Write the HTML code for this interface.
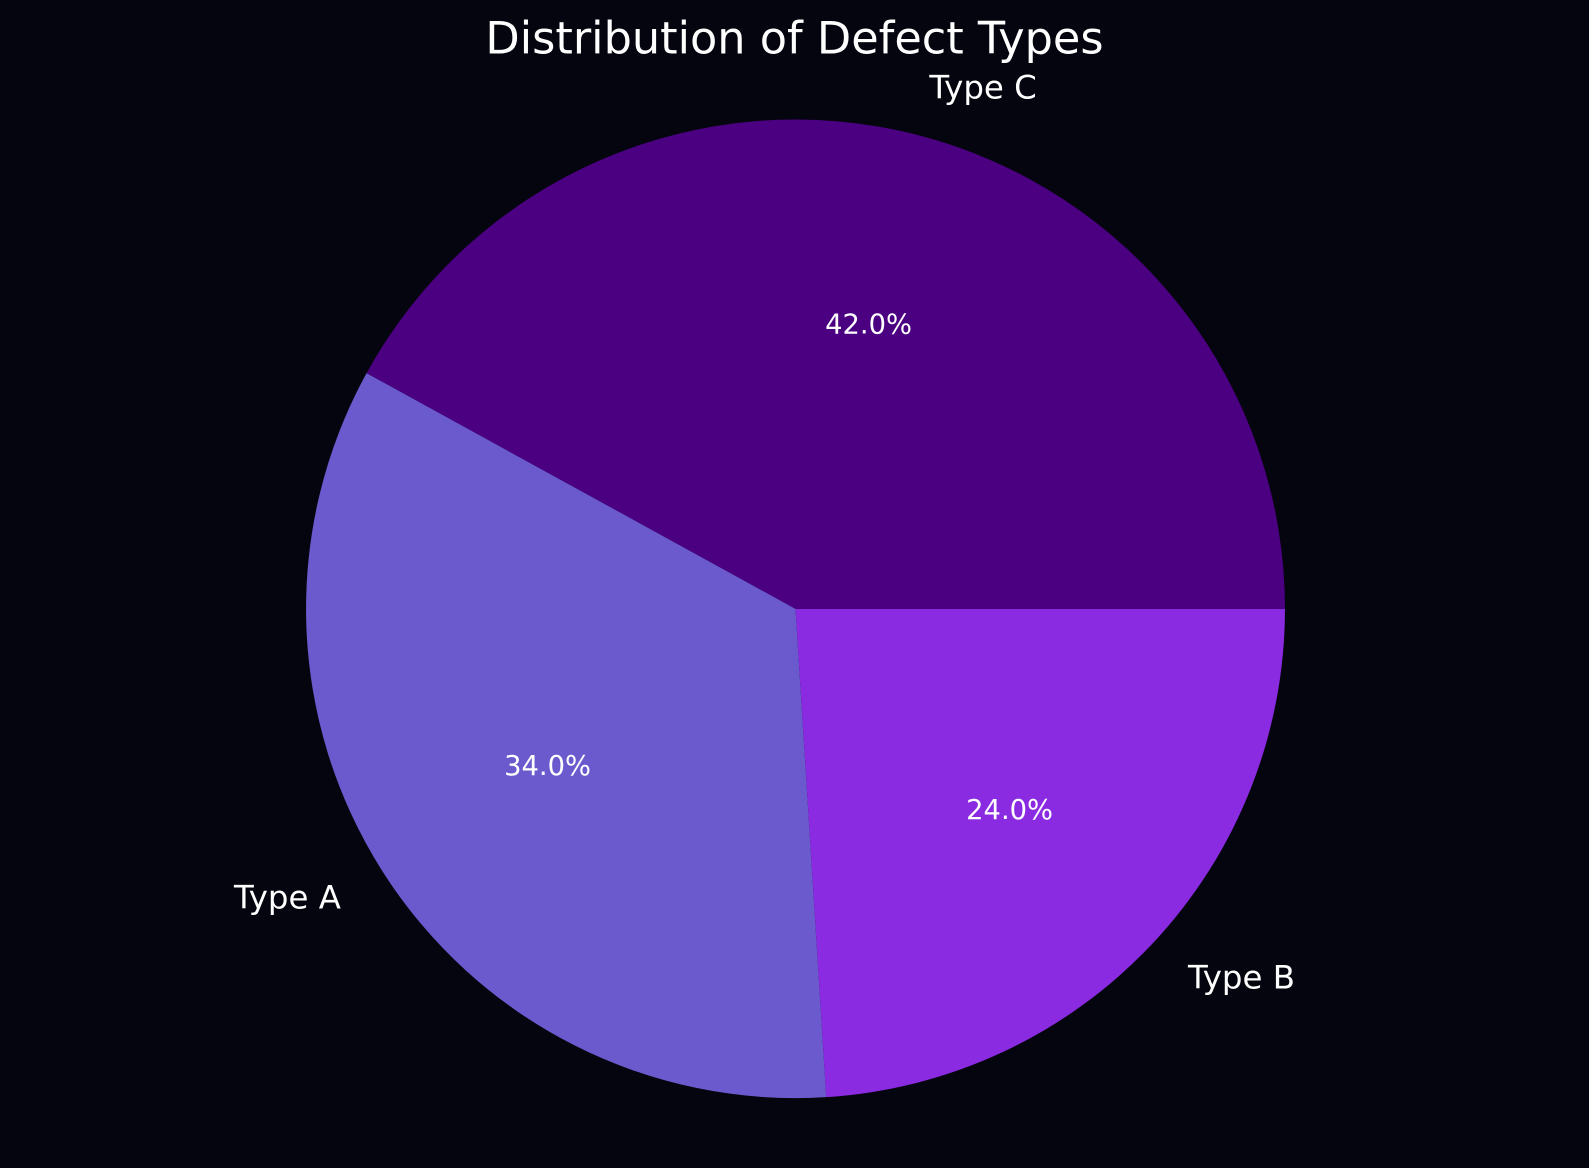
<!DOCTYPE html>
<html><head><meta charset="utf-8"><style>
html,body{margin:0;padding:0;background:#05050f;}
svg{display:block;font-family:"DejaVu Sans","Liberation Sans",sans-serif;}
</style></head><body>
<svg id="chart" width="1589" height="1168" viewBox="0 0 1568 1153" preserveAspectRatio="none" xmlns="http://www.w3.org/2000/svg">
<rect width="1568" height="1153" fill="#05050f"/>
<text x="784" y="53" text-anchor="middle" font-size="44" fill="#ffffff">Distribution of Defect Types</text>
<g id="slices"></g>
</svg>
<script>
const categories = ["Type A", "Type B", "Type C"];
const values = [34, 24, 42];
const colors = ["#6a5acd", "#8a2be2", "#4b0082"];
const startAngle = 151.2;
const cx = 785, cy = 601, r = 483;
const ns = "http://www.w3.org/2000/svg";
const g = document.getElementById('slices');
const total = values.reduce((a,b)=>a+b,0);
let a0 = startAngle;
function pt(deg, rad){const t=deg*Math.PI/180;return [cx+rad*Math.cos(t), cy-rad*Math.sin(t)];}
values.forEach((v,i)=>{
  const sweep = v/total*360, a1 = a0+sweep;
  const p0 = pt(a0,r), p1 = pt(a1,r);
  const path = document.createElementNS(ns,'path');
  path.setAttribute('d',`M${cx},${cy} L${p0[0]},${p0[1]} A${r},${r} 0 ${sweep>180?1:0} 0 ${p1[0]},${p1[1]} Z`);
  path.setAttribute('fill',colors[i]);
  
  
  g.appendChild(path);
  const mid = (a0+a1)/2;
  const lp = pt(mid, r*1.1);
  const cosm = Math.cos(mid*Math.PI/180);
  const lab = document.createElementNS(ns,'text');
  lab.setAttribute('x',lp[0]); lab.setAttribute('y',lp[1]+11);
  lab.setAttribute('text-anchor', cosm>0.01?'start':(cosm<-0.01?'end':'middle'));
  lab.setAttribute('font-size','32'); lab.setAttribute('fill','#ffffff');
  lab.textContent = categories[i];
  
  
  g.appendChild(lab);
  const pp = pt(mid, r*0.6);
  const pct = document.createElementNS(ns,'text');
  pct.setAttribute('x',pp[0]); pct.setAttribute('y',pp[1]+9);
  pct.setAttribute('text-anchor','middle');
  pct.setAttribute('font-size','27'); pct.setAttribute('fill','#ffffff');
  pct.textContent = (v/total*100).toFixed(1)+'%';
  
  
  g.appendChild(pct);
  a0 = a1;
});
</script>
</body></html>
